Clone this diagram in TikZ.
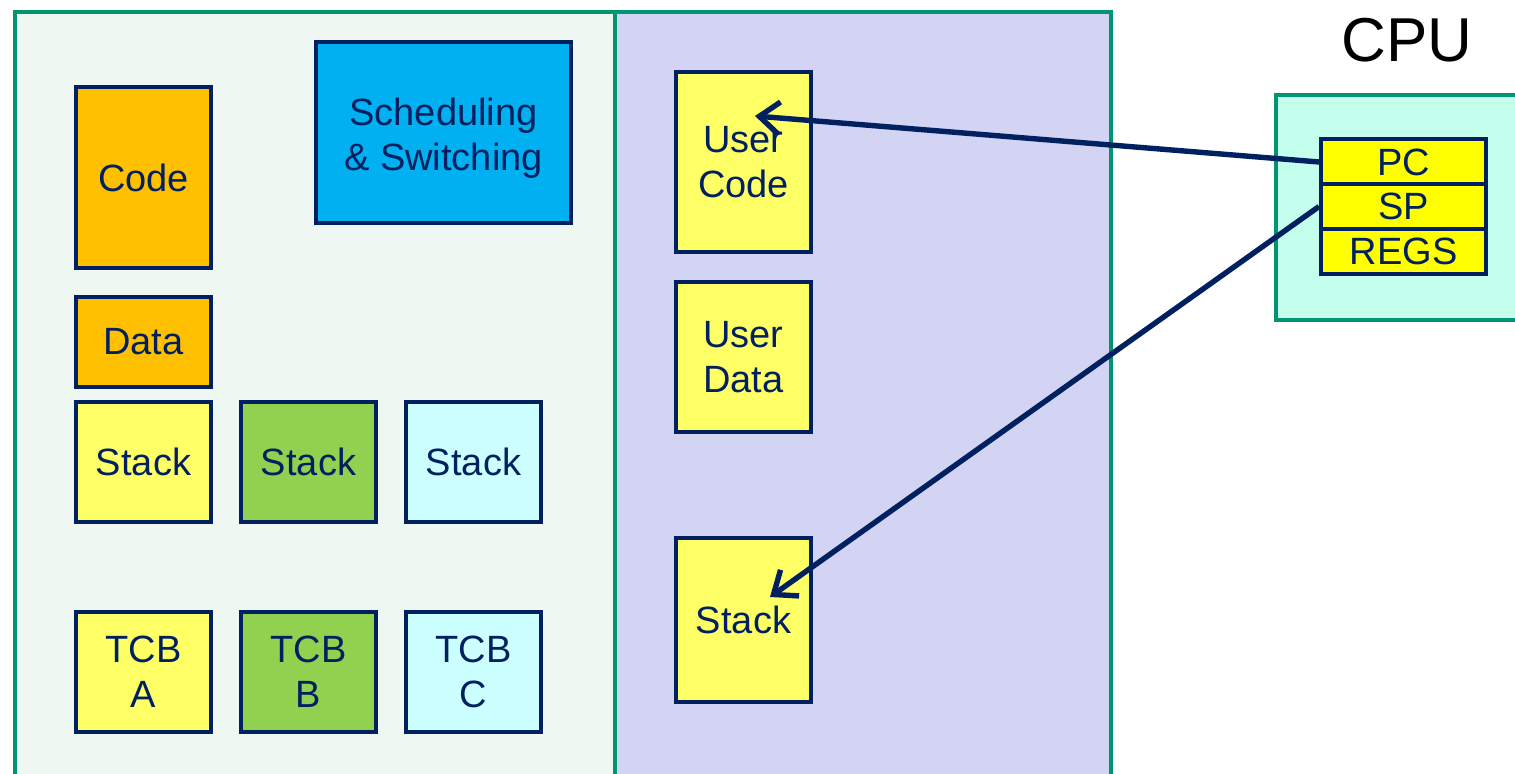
\documentclass[tikz,border=0pt]{standalone}
\usepackage{fontspec}
\setmainfont{Liberation Sans}
\usetikzlibrary{arrows.meta}
\definecolor{navy}{RGB}{0,32,96}
\definecolor{pgreen}{RGB}{0,148,115}
\definecolor{leftbg}{RGB}{238,247,242}
\definecolor{midbg}{RGB}{211,211,243}
\definecolor{cpubg}{RGB}{196,255,238}
\definecolor{orangeb}{RGB}{255,192,0}
\definecolor{blueb}{RGB}{0,176,240}
\definecolor{yellowb}{RGB}{255,255,102}
\definecolor{greenb}{RGB}{146,208,80}
\definecolor{cyanb}{RGB}{204,255,255}
\definecolor{regy}{RGB}{255,255,0}
\tikzset{
  panel/.style={draw=pgreen, line width=1.6pt},
  blk/.style={draw=navy, line width=2pt, text=navy, align=center, inner sep=0pt,
    font=\fontsize{19}{22.5}\selectfont},
  reg/.style={draw=navy, line width=2pt, text=navy, fill=regy, inner sep=0pt,
    minimum width=82.5pt, minimum height=22.5pt, font=\fontsize{19}{22.5}\selectfont},
  arr/.style={draw=navy, line width=2.7pt, -{Straight Barb[length=10pt,width=16pt,line width=2.7pt]}}
}
\begin{document}
\begin{tikzpicture}[x=0.5pt,y=-0.5pt]
\useasboundingbox (0,0) rectangle (1515,774);
\clip (0,0) rectangle (1515,774);
% panels
\path[panel, fill=leftbg] (15,12) rectangle (615,790);
\path[panel, fill=midbg] (615,12) rectangle (1111,790);
\path[panel, fill=cpubg] (1276,95) rectangle (1530,320);
\node[font=\fontsize{31}{36}\selectfont, text=black] (cpu) at (1407,40) {CPU};
% left blocks
\node[blk, fill=orangeb, minimum width=67.5pt, minimum height=90.5pt] (code) at (143.5,177.5) {Code};
\node[blk, fill=blueb, minimum width=127.5pt, minimum height=90.5pt, text depth=0pt] (sched) at (443.5,132.5) {\raisebox{10pt}{\parbox{120pt}{\centering Scheduling\\\& Switching}}};
\node[blk, fill=orangeb, minimum width=67.5pt, minimum height=45pt] (data) at (143.5,342) {Data};
\node[blk, fill=yellowb, minimum width=67.5pt, minimum height=60pt] (stacka) at (143.5,462) {Stack};
\node[blk, fill=greenb, minimum width=67.5pt, minimum height=60pt] (stackb) at (308.5,462) {Stack};
\node[blk, fill=cyanb, minimum width=67.5pt, minimum height=60pt] (stackc) at (473.5,462) {Stack};
\node[blk, fill=yellowb, minimum width=67.5pt, minimum height=60pt] (tcba) at (143.5,672) {TCB\\A};
\node[blk, fill=greenb, minimum width=67.5pt, minimum height=60pt] (tcbb) at (308.5,672) {TCB\\B};
\node[blk, fill=cyanb, minimum width=67.5pt, minimum height=60pt] (tcbc) at (473.5,672) {TCB\\C};
% middle blocks
\node[blk, fill=yellowb, minimum width=67.5pt, minimum height=90pt] (ucode) at (743.5,162) {User\\Code};
\node[blk, fill=yellowb, minimum width=67.5pt, minimum height=75pt] (udata) at (743.5,357) {User\\Data};
\node[blk, fill=yellowb, minimum width=67.5pt, minimum height=82pt] (ustack) at (743.5,620) {Stack};
% registers
\node[reg] (pc) at (1403.5,162) {PC};
\node[reg] (sp) at (1403.5,206.5) {SP};
\node[reg] (regs) at (1403.5,251.5) {REGS};
% arrows
\coordinate (pctip) at (755,116);
\coordinate (sptip) at (770,597);
\draw[arr] (pc.west) -- (pctip);
\draw[arr] (sp.west) -- (sptip);
\end{tikzpicture}
\end{document}
